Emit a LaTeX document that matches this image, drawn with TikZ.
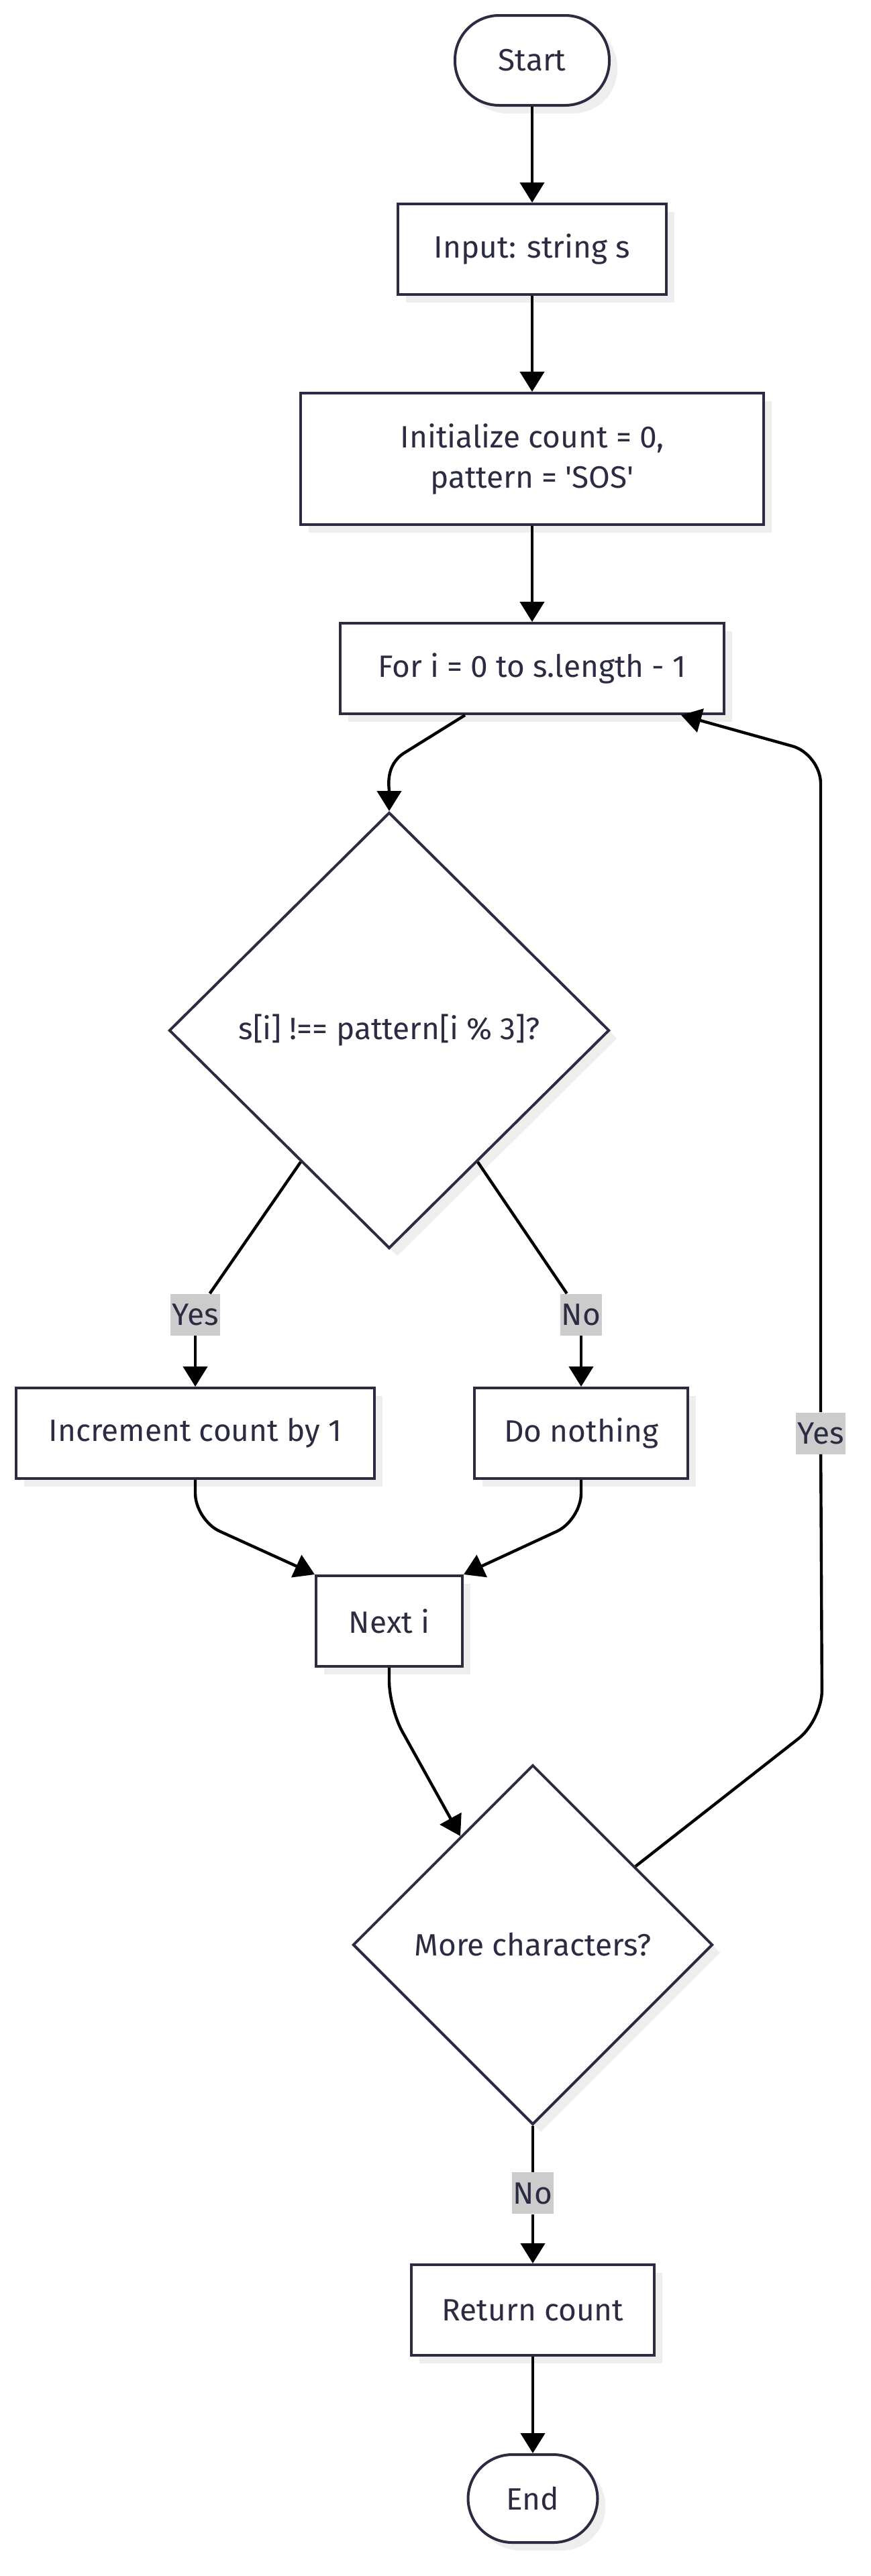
\documentclass[tikz,border=0pt]{standalone}
\usepackage{fontspec}
\setmainfont{Fira Sans}
\usepackage{tikz}
\usetikzlibrary{arrows.meta,positioning,calc,shapes.geometric,shadows}
\definecolor{nodeline}{HTML}{2B2B42}
\definecolor{nodetext}{HTML}{2B2B42}
\definecolor{lblfill}{HTML}{CCCCCC}
\definecolor{shadowgray}{HTML}{EEEEEE}

\begin{document}
\begin{tikzpicture}[
  base/.style={draw=nodeline, line width=2pt, fill=white, text=nodetext, font=\fontsize{23}{30}\selectfont, align=center,
    drop shadow={shadow xshift=6pt, shadow yshift=-6pt, fill=shadowgray, opacity=1}},
  proc/.style={base, rectangle, minimum height=67.5pt},
  term/.style={base, rectangle, rounded corners=33pt, minimum width=115pt, minimum height=67pt},
  decision/.style={base, diamond, aspect=1, inner sep=0pt},
  lbl/.style={fill=lblfill, text=nodetext, font=\fontsize{23}{30}\selectfont, inner xsep=1pt, inner ysep=0pt, minimum height=31pt},
  arr/.style={-{Triangle[length=15pt, width=18pt]}, line width=2.2pt, black},
  line/.style={line width=2.2pt, black}
]
  \path[use as bounding box, fill=white] (0,0) rectangle (648.5pt,-1920pt);

  \node[term] (start) at (396.5pt,-45pt) {Start};
  \node[proc, minimum width=200pt, below=71.5pt of start] (input) {Input: string s};
  \node[proc, minimum width=345pt, minimum height=98pt, below=71.5pt of input] (init) {Initialize count = 0,\\pattern = \textquotesingle SOS\textquotesingle};
  \node[proc, minimum width=286pt, below=71.5pt of init] (for) {For i = 0 to s.length - 1};
  \node[decision, minimum width=328pt, minimum height=325pt, below=71.5pt of for, xshift=-106.5pt] (dec1) {s[i] !== pattern[i \% 3]?};
  \node[proc, minimum width=267pt, below=102pt of dec1, xshift=-144.5pt] (incr) {Increment count by 1};
  \node[proc, minimum width=159pt, below=102pt of dec1, xshift=143pt] (nothing) {Do nothing};
  \node[proc, minimum width=109pt, below=242pt of dec1] (next) {Next i};
  \node[decision, minimum width=268pt, minimum height=268pt, below=71.5pt of next, xshift=107pt] (dec2) {More characters?};
  \node[proc, minimum width=181pt, below=102.5pt of dec2] (ret) {Return count};
  \node[term, minimum width=96.5pt, minimum height=65.5pt, below=72pt of ret] (end) {End};

  % edge labels
  \node[lbl, above=38pt of incr] (yes1) {Yes};
  \node[lbl, above=38pt of nothing] (no1) {No};
  \node[lbl, below=34.5pt of dec2] (no2) {No};

  \coordinate (d1yes) at ($(dec1.west)!0.6!(dec1.south)$);
  \coordinate (d1no) at ($(dec1.east)!0.6!(dec1.south)$);
  \coordinate (d2in) at ($(dec2.west)!0.6!(dec2.north)$);
  \coordinate (d2out) at ($(dec2.east)!0.433!(dec2.north)$);
  \coordinate (loopbot) at ($(d2out)+(139pt,109pt)$);
  \coordinate (looptop) at ($(for.south)+(215pt,-29pt)$);
  \node[lbl] (yes2) at (looptop |- nothing) {Yes};

  \draw[arr] (start) -- (input);
  \draw[arr] (input) -- (init);
  \draw[arr] (init) -- (for);
  \draw[arr] ([xshift=-50pt]for.south) -- ++(-45pt,-28pt) to[out=-148,in=90] (dec1.north);
  \draw[line] (d1yes) -- (yes1);
  \draw[arr] (yes1) -- (incr);
  \draw[line] (d1no) -- (no1);
  \draw[arr] (no1) -- (nothing);
  \draw[arr, rounded corners=20pt] (incr.south) -- ++(0,-30pt) -- (next.north west);
  \draw[arr, rounded corners=20pt] (nothing.south) -- ++(0,-30pt) -- (next.north east);
  \draw[arr, rounded corners=20pt] (next.south) -- ++(0,-30pt) -- (d2in);
  \draw[line, rounded corners=22pt] (d2out) -- (loopbot) -- (yes2);
  \draw[arr, rounded corners=22pt] (yes2) -- (looptop) -- ([xshift=111pt]for.south);
  \draw[line] (dec2) -- (no2);
  \draw[arr] (no2) -- (ret);
  \draw[arr] (ret) -- (end);
\end{tikzpicture}
\end{document}
